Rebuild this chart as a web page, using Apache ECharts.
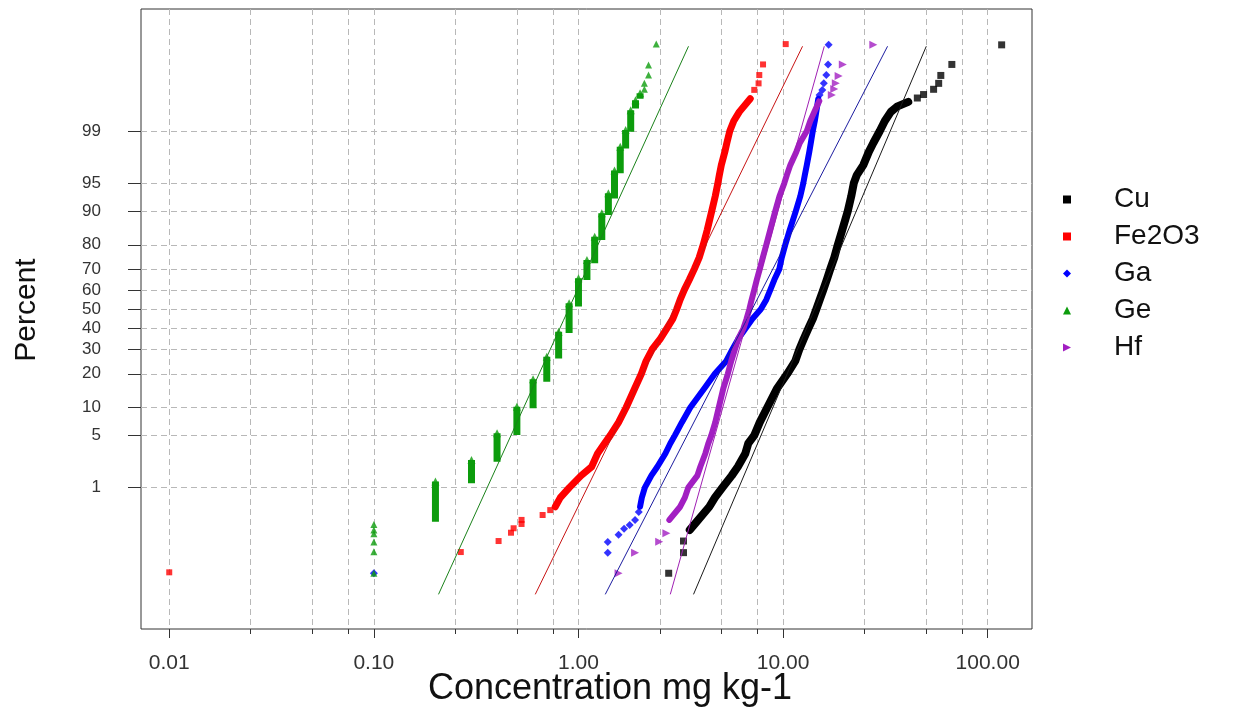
<!DOCTYPE html>
<html><head><meta charset="utf-8">
<script src="https://cdn.jsdelivr.net/npm/echarts@6/dist/echarts.min.js"></script>
<style>html,body{margin:0;padding:0;background:#fff}#c{width:1239px;height:719px}</style>
</head><body><div id="c"></div>
<script>
// ---------- tick labels ----------
const percentTicks = [1, 5, 10, 20, 30, 40, 50, 60, 70, 80, 90, 95, 99];
const xMajorTicks = [0.01, 0.1, 1, 10, 100];
const xMinorTicks = [0.01, 0.025, 0.05, 0.075, 0.1, 0.25, 0.5, 0.75, 1, 2.5, 5, 7.5, 10, 25, 50, 75, 100];
const seriesNames = ['Cu', 'Fe2O3', 'Ga', 'Ge', 'Hf'];

// ---------- data: [concentration mg/kg, cumulative percent] ----------
const cuBody = [[3.50,0.2],[3.85,0.3],[4.36,0.5],[4.64,0.7],[5.05,1],[5.61,1.5],[6.01,2],[6.54,3],[6.76,4],[7.23,5],[7.69,7],[8.37,10],[9.32,15],[10.48,20],[11.47,25],[12.0,30],[12.62,35],[13.28,40],[13.97,45],[14.53,50],[15.11,55],[15.72,60],[16.35,65],[17.01,70],[17.79,75],[18.51,80],[19.47,85],[20.71,90],[21.54,93],[22.16,95],[22.92,96],[24.66,97],[26.24,98],[27.6,98.5],[29.69,99],[31.41,99.3],[33.61,99.5],[36.0,99.59],[40.9,99.66]];
const cuPoints = [[2.76,0.0287],[3.26,0.075],[3.26,0.125],[45.3,99.708],[48.6,99.746],[54.4,99.795],[57.6,99.84],[59.0,99.886],[66.8,99.93],[117,99.972]];

const fe2o3Body = [[0.77,0.5],[0.815,0.7],[0.902,1],[1.03,1.5],[1.16,2],[1.24,3],[1.34,4],[1.43,5],[1.57,7],[1.71,10],[1.88,15],[2.03,20],[2.14,25],[2.29,30],[2.51,35],[2.70,40],[2.89,45],[3.02,50],[3.14,55],[3.29,60],[3.48,65],[3.68,70],[3.89,75],[4.07,80],[4.26,85],[4.48,90],[4.66,93],[4.80,95],[4.88,96],[4.99,97],[5.19,98],[5.31,98.5],[5.49,99],[5.74,99.3],[6.11,99.5],[6.91,99.7]];
const fe2o3Points = [[0.01,0.03],[0.266,0.077],[0.407,0.125],[0.468,0.178],[0.482,0.214],[0.527,0.255],[0.527,0.30],[0.668,0.364],[0.728,0.44],[7.23,99.79],[7.59,99.84],[7.65,99.888],[7.98,99.93],[10.3,99.973]];

const gaBody = [[2.00,0.5],[2.04,0.7],[2.11,1],[2.27,1.5],[2.43,2],[2.66,3],[2.81,4],[2.96,5],[3.20,7],[3.52,10],[4.11,15],[4.64,20],[5.28,25],[5.65,30],[6.04,35],[6.54,40],[7.07,45],[7.78,50],[8.28,55],[8.66,60],[9.06,65],[9.58,70],[9.85,75],[10.25,80],[10.78,85],[11.54,90],[12.14,93],[12.55,95],[12.77,96],[13.06,97],[13.43,98],[13.66,98.5],[13.97,99],[14.29,99.3],[14.53,99.5],[14.86,99.7]];
const gaPoints = [[0.1,0.0287],[1.39,0.075],[1.39,0.12],[1.57,0.164],[1.67,0.209],[1.78,0.245],[1.89,0.30],[1.97,0.41],[15.08,99.741],[15.55,99.789],[15.81,99.84],[16.26,99.888],[16.59,99.93],[16.69,99.972]];

// Ge is reported in 0.1 steps: [concentration, lowest percent, highest percent]
const geSteps = [[0.2,0.28,1.23],[0.3,1.16,2.47],[0.4,2.34,5.28],[0.5,5.05,10.2],[0.6,9.82,18.1],[0.7,17.2,26.8],[0.8,26.1,38.5],[0.9,37.9,53.1],[1.0,51.4,65.7],[1.1,64.9,74.0],[1.2,72.6,82.8],[1.3,81.7,89.5],[1.4,89.1,93.5],[1.5,92.6,96.5],[1.6,96.2,98.3],[1.7,98.2,99.03],[1.8,98.97,99.53],[1.9,99.56,99.68],[2.0,99.70,99.758]];
const gePoints = [[0.1,0.0287],[0.1,0.078],[0.1,0.12],[0.1,0.17],[0.1,0.20],[0.1,0.25],[2.1,99.795],[2.1,99.84],[2.2,99.888],[2.2,99.928],[2.4,99.973]];

const hfBody = [[2.78,0.3],[3.14,0.5],[3.31,0.7],[3.44,1],[3.81,1.5],[3.94,2],[4.17,3],[4.31,4],[4.46,5],[4.66,7],[4.85,10],[5.10,15],[5.37,20],[5.58,25],[5.81,30],[6.04,35],[6.39,40],[6.63,45],[6.84,50],[7.02,55],[7.23,60],[7.44,65],[7.69,70],[7.96,75],[8.28,80],[8.66,85],[9.16,90],[9.60,93],[10.14,95],[10.43,96],[10.84,97],[11.60,98],[12.07,98.5],[13.06,99],[13.58,99.3],[14.21,99.5],[15.03,99.67]];
const hfPoints = [[1.57,0.0287],[1.89,0.075],[2.48,0.121],[2.69,0.174],[17.3,99.741],[17.79,99.797],[18.1,99.84],[18.68,99.883],[19.58,99.93],[27.6,99.972]];

// fitted lognormal reference lines
const cuFit = [[3.65,0.01],[50.1,99.97]];
const fe2o3Fit = [[0.615,0.01],[12.45,99.97]];
const gaFit = [[1.352,0.01],[32.4,99.97]];
const geFit = [[0.207,0.01],[3.45,99.97]];
const hfFit = [[2.81,0.01],[15.9,99.97]];

// ---------- helpers ----------
function probit(p){
  const a=[-3.969683028665376e+01,2.209460984245205e+02,-2.759285104469687e+02,1.383577518672690e+02,-3.066479806614716e+01,2.506628277459239e+00];
  const b=[-5.447609879822406e+01,1.615858368580409e+02,-1.556989798598866e+02,6.680131188771972e+01,-1.328068155288572e+01];
  const c=[-7.784894002430293e-03,-3.223964580411365e-01,-2.400758277161838e+00,-2.549732539343734e+00,4.374664141464968e+00,2.938163982698783e+00];
  const d=[7.784695709041462e-03,3.224671290700398e-01,2.445134137142996e+00,3.754408661907416e+00];
  const pl=0.02425, ph=1-pl; let q,r;
  if(p<pl){q=Math.sqrt(-2*Math.log(p));return (((((c[0]*q+c[1])*q+c[2])*q+c[3])*q+c[4])*q+c[5])/((((d[0]*q+d[1])*q+d[2])*q+d[3])*q+1);}
  if(p<=ph){q=p-0.5;r=q*q;return (((((a[0]*r+a[1])*r+a[2])*r+a[3])*r+a[4])*r+a[5])*q/(((((b[0]*r+b[1])*r+b[2])*r+b[3])*r+b[4])*r+1);}
  q=Math.sqrt(-2*Math.log(1-p));return -(((((c[0]*q+c[1])*q+c[2])*q+c[3])*q+c[4])*q+c[5])/((((d[0]*q+d[1])*q+d[2])*q+d[3])*q+1);
}
const tx = v => [Math.log10(v[0]), probit(v[1]/100)];
const conv = arr => arr.map(tx);
const stepsToSegments = steps => {
  const out = [];
  steps.forEach(s => { out.push(tx([s[0], s[1]])); out.push(tx([s[0], s[2]])); out.push(['-','-']); });
  return out;
};
const stepTops = steps => steps.map(s => tx([s[0], s[2]]));

const percentZ = percentTicks.map(p => probit(p/100));
const xMajorL = xMajorTicks.map(v => Math.log10(v));
const xMinorL = xMinorTicks.map(v => Math.log10(v));

const FONT = 'Liberation Sans, Arial, sans-serif';
const colors = {Cu:'#000000', Fe2O3:'#ff0000', Ga:'#0000ff', Ge:'#0c9c0c', Hf:'#a21fc2'};
const fitColors = {Cu:'#1a1a1a', Fe2O3:'#c81414', Ga:'#1c1ca0', Ge:'#1a821a', Hf:'#a020b4'};

const chart = echarts.init(document.getElementById('c'), null, {renderer:'canvas'});

function bodySeries(name, data, width){
  return {name, type:'line', data:conv(data), showSymbol:false, symbol:'none',
    lineStyle:{color:colors[name], width, cap:'round', join:'round'}, itemStyle:{color:colors[name]},
    silent:true, z:3, animation:false};
}
function pointSeries(name, data, symbol, size){
  return {name, type:'scatter', data:conv(data), symbol, symbolSize:size,
    itemStyle:{color:colors[name]}, silent:true, z:4, animation:false};
}
function fitSeries(name, data){
  return {name: name+' fit', type:'line', data:conv(data), showSymbol:false, symbol:'none',
    lineStyle:{color:fitColors[name], width:1}, silent:true, z:6, animation:false};
}
const triRight = 'path://M0,0L10,5L0,10Z';

const option = {
  animation:false,
  backgroundColor:'#ffffff',
  grid:{left:141, top:9, width:891, height:620, show:true, borderColor:'#333', borderWidth:1, backgroundColor:'transparent'},
  xAxis:[{
    type:'value', min:-2.138, max:2.2165, position:'bottom',
    axisLine:{show:false, onZero:false},
    axisTick:{show:true, length:9, customValues:xMajorL, lineStyle:{color:'#333', width:1}},
    axisLabel:{customValues:xMajorL, margin:24, fontSize:21, color:'#333', fontFamily:FONT,
      formatter:v => Math.pow(10, Math.round(v)).toFixed(2)},
    splitLine:{show:false}
  },{
    type:'value', min:-2.138, max:2.2165, position:'bottom',
    axisLine:{show:false, onZero:false},
    axisTick:{show:true, length:5, customValues:xMinorL, lineStyle:{color:'#333', width:1}},
    axisLabel:{show:false},
    splitLine:{show:true, lineStyle:{color:'#b8b8b8', width:1, type:[6,4]}}
  }],
  yAxis:{
    type:'value', min:-4.171, max:3.918, position:'left',
    axisLine:{show:false, onZero:false},
    axisTick:{show:true, length:13, customValues:percentZ, lineStyle:{color:'#333', width:1}},
    axisLabel:{customValues:percentZ, margin:40, fontSize:17, color:'#333', fontFamily:FONT,
      formatter:v => { let best=0; percentZ.forEach((z,i)=>{ if(Math.abs(z-v)<Math.abs(percentZ[best]-v)) best=i; }); return String(percentTicks[best]); }},
    splitLine:{show:true, lineStyle:{color:'#b8b8b8', width:1, type:[6,4]}}
  },
  legend:{
    orient:'vertical', left:1058, top:180, itemGap:8, itemWidth:8, itemHeight:8,
    data:[
      {name:'Cu', icon:'rect'},
      {name:'Fe2O3', icon:'rect'},
      {name:'Ga', icon:'diamond'},
      {name:'Ge', icon:'triangle'},
      {name:'Hf', icon:triRight}
    ],
    textStyle:{fontSize:28, color:'#111', fontFamily:FONT, lineHeight:29, padding:[0,0,0,38]},
    selectedMode:false
  },
  graphic:[
    {type:'text', x:610, y:689, style:{text:'Concentration mg kg-1', font:'36px '+FONT, fill:'#111', textAlign:'center', textVerticalAlign:'middle'}},
    {type:'text', x:27, y:310, rotation:Math.PI/2, style:{text:'Percent', font:'30px '+FONT, fill:'#111', textAlign:'center', textVerticalAlign:'middle'}}
  ],
  series:[
    bodySeries('Cu', cuBody, 8),
    pointSeries('Cu', cuPoints, 'rect', 7),
    bodySeries('Fe2O3', fe2o3Body, 7),
    pointSeries('Fe2O3', fe2o3Points, 'rect', 6),
    bodySeries('Ga', gaBody, 6),
    pointSeries('Ga', gaPoints, 'diamond', 8),
    {name:'Ge', type:'line', data:stepsToSegments(geSteps), showSymbol:false, symbol:'none', connectNulls:false,
      lineStyle:{color:colors.Ge, width:7, cap:'butt'}, itemStyle:{color:colors.Ge}, silent:true, z:3, animation:false},
    {name:'Ge', type:'scatter', data:stepTops(geSteps), symbol:'triangle', symbolSize:8, itemStyle:{color:colors.Ge}, silent:true, z:4, animation:false},
    pointSeries('Ge', gePoints, 'triangle', 7),
    bodySeries('Hf', hfBody, 6),
    pointSeries('Hf', hfPoints, triRight, 8),
    fitSeries('Cu', cuFit), fitSeries('Fe2O3', fe2o3Fit), fitSeries('Ga', gaFit), fitSeries('Ge', geFit), fitSeries('Hf', hfFit)
  ]
};
chart.setOption(option);
</script>
</body></html>
